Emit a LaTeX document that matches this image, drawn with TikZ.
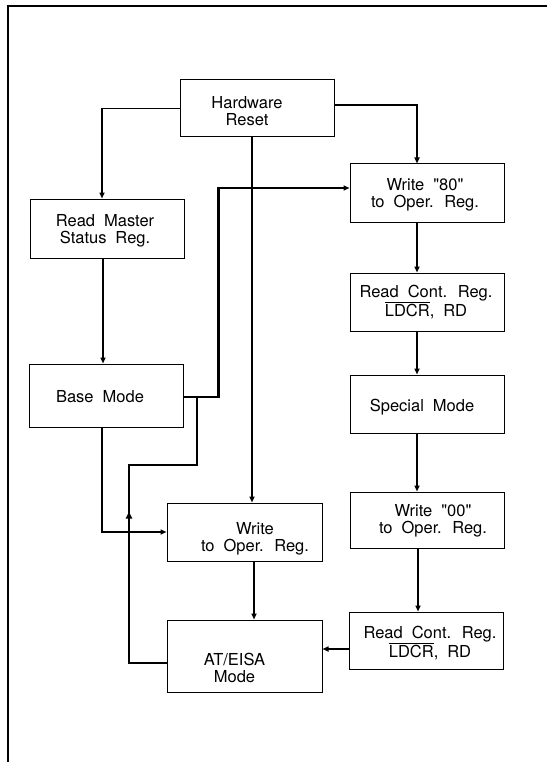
\documentclass[tikz,border=0pt]{standalone}
\usepackage{fontspec}
\setmainfont{TeX Gyre Heros}
\usetikzlibrary{arrows.meta,decorations.markings}
\begin{document}
\begin{tikzpicture}[x=1pt,y=-1pt,
  box/.style={draw,line width=1pt,minimum width=154pt,inner sep=0pt},
  txt/.style={align=center,inner sep=0pt,font={\fontsize{16.5}{17.5}\selectfont\spaceskip=9pt plus 2pt\relax}},
  tip/.style={-{Triangle[length=6pt,width=5pt]}},
  conn/.style={line width=1.8pt,tip},
  heavy/.style={line width=2.6pt},
  frameline/.style={line width=1.2pt}]
\useasboundingbox (0,0) rectangle (547,762);
% frame
\coordinate (fa) at (8,6);
\coordinate (fb) at (547,6);
\coordinate (fc) at (8,762);
\draw[frameline] (fb) -- (fa) -- (fc);
% boxes
\node[box,minimum height=57pt] (hr) at (257,108.5) {};
\node[box,minimum height=59pt] (rm) at (107,228.5) {};
\node[box,minimum height=58pt] (w80) at (427,193) {};
\node[box,minimum height=58pt] (rc1) at (427,302) {};
\node[box,minimum height=63pt] (bm) at (106,395.5) {};
\node[box,minimum height=58pt] (sm) at (427,404) {};
\node[box,minimum height=56pt] (w00) at (427,520) {};
\node[box,minimum width=155pt,minimum height=58pt] (wo) at (244.5,532) {};
\node[box,minimum width=155pt,minimum height=72pt] (at) at (244.5,656) {};
\node[box,minimum height=57pt] (rc2) at (426,640.5) {};
% texts
\node[txt] (hrT) at (247,111) {Hardware\\Reset};
\node[txt] (rmT) at (105,231) {Read Master\\Status Reg.};
\node[txt] (w80T) at (425,195) {Write \textquotedbl80\textquotedbl\\to Oper. Reg.};
\node[txt] (rc1T) at (426,302) {Read Cont. Reg.\\$\overline{\mbox{LDCR}}$, RD};
\node[txt] (bmT) at (100,397) {Base Mode};
\node[txt] (smT) at (422,407) {Special Mode};
\node[txt] (w00T) at (433,521) {Write \textquotedbl00\textquotedbl\\to Oper. Reg.};
\node[txt] (woT) at (255,539) {Write\\to Oper. Reg.};
\node[txt] (atT) at (234.5,668) {AT/EISA\\Mode};
\node[txt] (rc2T) at (430,643) {Read Cont. Reg.\\$\overline{\mbox{LDCR}}$, RD};
% connectors
\draw[conn] (hr.west) -| ([xshift=-5pt]rm.north);
\draw[conn] ([yshift=3.5pt]hr.east) -| ([xshift=-10pt]w80.north);
\draw[conn] ([xshift=-5pt]hr.south) -- ([xshift=-5pt]hr.south |- wo.north);
\draw[conn] ([xshift=-4pt]rm.south) -- ([xshift=-4pt]rm.south |- bm.north);
\draw[conn,line width=2.6pt] ([yshift=-1.5pt]bm.east) -- ++(35,0) |- ([yshift=5pt]w80.west);
\coordinate (l1) at (129,465);
\coordinate (l2) at (197,397);
\draw[heavy,postaction={decorate},decoration={markings,mark=at position 189pt with {\arrow{Triangle[length=7pt,width=6pt]}}}]
  ([yshift=-7pt]at.west) -| (l1) -- (l1 -| l2) -- (l2);
\draw[conn] ([xshift=-4pt]bm.south) |- (wo.west);
\draw[conn] ([xshift=-10pt]w80.south) -- ([xshift=-10pt]w80.south |- rc1.north);
\draw[conn] ([xshift=-10pt]rc1.south) -- ([xshift=-10pt]rc1.south |- sm.north);
\draw[conn] ([xshift=-10pt]sm.south) -- ([xshift=-10pt]sm.south |- w00.north);
\draw[conn] ([xshift=-9pt]w00.south) -- ([xshift=-9pt]w00.south |- rc2.north);
\draw[conn] ([yshift=-8.5pt]rc2.west) -- ([yshift=-8.5pt]rc2.west -| at.east);
\draw[conn] ([xshift=9.5pt]wo.south) -- ([xshift=9.5pt]wo.south |- at.north);
\end{tikzpicture}
\end{document}
